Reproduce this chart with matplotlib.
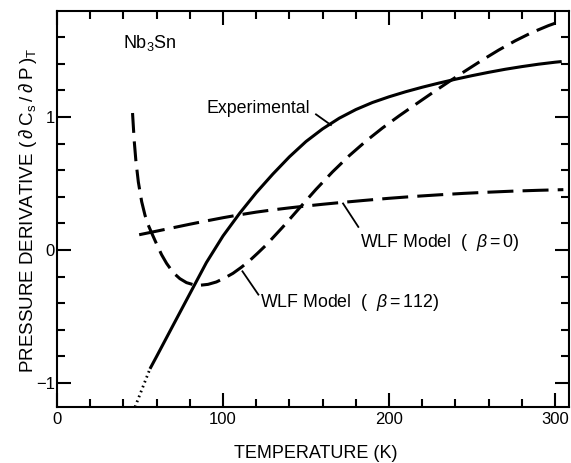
import matplotlib
matplotlib.use("Agg")
import matplotlib.pyplot as plt
from matplotlib.ticker import MultipleLocator

plt.rcParams['font.family'] = ['Liberation Sans', 'DejaVu Sans']
plt.rcParams['mathtext.fontset'] = 'custom'
plt.rcParams['mathtext.rm'] = 'Liberation Sans'
plt.rcParams['mathtext.it'] = 'Liberation Sans:italic'
plt.rcParams['mathtext.default'] = 'regular'

# Measured pressure derivative (solid) and its low-temperature extrapolation (dotted)
exp_T = [56, 60, 70, 80, 90, 100, 110, 120, 130, 140, 150, 160, 170, 180,
         190, 200, 210, 220, 230, 240, 250, 260, 270, 280, 290, 300, 304]
exp_val = [-0.893, -0.80, -0.564, -0.329, -0.094, 0.106, 0.276, 0.431, 0.571,
           0.701, 0.816, 0.911, 0.991, 1.056, 1.109, 1.152, 1.190, 1.224,
           1.255, 1.284, 1.311, 1.336, 1.359, 1.379, 1.397, 1.412, 1.417]
exp_dot_T = [47, 56]
exp_dot_val = [-1.18, -0.893]

# WLF model, beta = 112
wlf112_T = [45.5, 46.5, 47.5, 49, 51, 53, 55, 57, 60, 63, 66, 70, 74, 78, 82,
            86, 91, 96, 101, 106, 111, 116, 121, 126, 136, 146, 156, 166, 176,
            186, 196, 206, 216, 226, 236, 246, 256, 266, 276, 286, 296, 302]
wlf112_val = [1.03, 0.823, 0.673, 0.511, 0.364, 0.262, 0.187, 0.129, 0.045,
              -0.035, -0.10, -0.17, -0.215, -0.245, -0.26, -0.265, -0.258,
              -0.24, -0.21, -0.175, -0.13, -0.08, -0.022, 0.038, 0.173, 0.315,
              0.456, 0.588, 0.709, 0.818, 0.917, 1.008, 1.095, 1.181, 1.265,
              1.347, 1.427, 1.503, 1.573, 1.635, 1.687, 1.714]

# WLF model, beta = 0
wlf0_T = [49.5, 60, 70, 80, 90, 100, 110, 120, 130, 140, 150, 160, 170, 185,
          200, 215, 230, 245, 260, 275, 290, 305]
wlf0_val = [0.115, 0.142, 0.168, 0.194, 0.219, 0.243, 0.265, 0.285, 0.302,
            0.317, 0.331, 0.344, 0.356, 0.373, 0.389, 0.403, 0.415, 0.426,
            0.435, 0.443, 0.449, 0.454]

x_ticks = [0, 100, 200, 300]
y_ticks = [-1, 0, 1]

W, H = 571, 463
fig = plt.figure(figsize=(W / 100, H / 100), dpi=100)
ax = fig.add_axes([57 / W, 1 - 407 / H, 512 / W, 396 / H])

ax.plot(exp_T, exp_val, color='black', lw=2.2, solid_capstyle='butt',
        solid_joinstyle='round')
ax.plot(exp_dot_T, exp_dot_val, color='black', lw=2.0,
        linestyle=(0, (0.6, 1.3)), dash_capstyle='butt')
ax.plot(wlf112_T, wlf112_val, color='black', lw=2.2,
        linestyle=(0, (6.5, 2.8)), dash_capstyle='butt', dash_joinstyle='round')
ax.plot(wlf0_T, wlf0_val, color='black', lw=2.2,
        linestyle=(0, (8.5, 3.0)), dash_capstyle='butt', dash_joinstyle='round')

ax.set_xlim(0, 308.4)
ax.set_ylim(-1.18, 1.797)
ax.set_xticks(x_ticks)
ax.set_yticks(y_ticks)
ax.xaxis.set_minor_locator(MultipleLocator(20))
ax.yaxis.set_minor_locator(MultipleLocator(0.2))
ax.tick_params(which='both', direction='in', top=True, right=True, width=1.5)
ax.tick_params(which='major', length=10, labelsize=12)
ax.tick_params(which='minor', length=5.5)
ax.tick_params(axis='x', pad=3.5)
ax.tick_params(axis='y', pad=1.5)
for sp in ax.spines.values():
    sp.set_linewidth(1.5)

# Curve labels and leader lines
ax.text(39.5, 1.52, "Nb$_3$Sn", fontsize=13, va='baseline')
ax.text(89.8, 1.03, "Experimental", fontsize=12.8, va='baseline')
ax.plot([156, 165], [1.02, 0.94], color='black', lw=1.3)
ax.text(182.5, 0.02, r"WLF Model  (  $\mathit{\beta}=0$)", fontsize=12.8,
        va='baseline')
ax.plot([172.3, 181.5], [0.35, 0.174], color='black', lw=1.3)
ax.text(122.3, -0.425, r"WLF Model  (  $\mathit{\beta}=112$)", fontsize=12.8,
        va='baseline')
ax.plot([111.7, 121.3], [-0.16, -0.335], color='black', lw=1.3)

fig.text(316 / W, 1 - 453 / H, "TEMPERATURE (K)", ha='center', va='center',
         fontsize=13)
fig.text(28 / W, 1 - 210 / H,
         r"PRESSURE DERIVATIVE $(\:\partial\:C_s\:/\:\partial\:P\:)_T$",
         rotation=90, ha='center', va='center', fontsize=13.5)

fig.savefig("out.png", dpi=100)
